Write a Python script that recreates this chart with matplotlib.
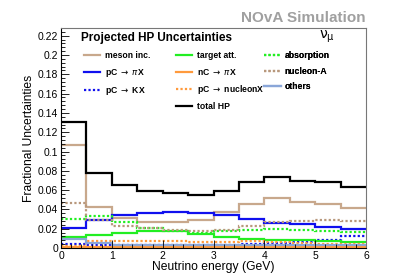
import numpy as np
import matplotlib
matplotlib.use("Agg")
from matplotlib import pyplot as plt
from matplotlib.ticker import MultipleLocator

plt.rcParams['font.family'] = ['Liberation Sans', 'DejaVu Sans']

# bin edges (GeV)
edges = [0, 0.5, 1, 1.5, 2, 2.5, 3, 3.5, 4, 4.5, 5, 5.5, 6]

meson_inc = [0.107, 0.0424, 0.031, 0.027, 0.027, 0.029, 0.037, 0.046, 0.052, 0.048, 0.046, 0.041]
target_att = [0.0114, 0.0138, 0.0155, 0.0175, 0.0172, 0.0148, 0.0114, 0.0095, 0.0085, 0.008, 0.0072, 0.0062]
absorption = [0.030, 0.0335, 0.027, 0.021, 0.018, 0.016, 0.0176, 0.019, 0.0197, 0.019, 0.018, 0.017]
pc_pix = [0.0203, 0.0293, 0.034, 0.036, 0.037, 0.0366, 0.034, 0.030, 0.026, 0.0245, 0.022, 0.0198]
nc_pix = [0.001, 0.001, 0.001, 0.001, 0.001, 0.001, 0.001, 0.001, 0.001, 0.001, 0.001, 0.001]
nucleon_a = [0.0466, 0.029, 0.023, 0.0205, 0.019, 0.0175, 0.019, 0.0228, 0.0265, 0.0285, 0.029, 0.028]
pc_kx = [0.004, 0.003, 0.003, 0.003, 0.003, 0.003, 0.003, 0.004, 0.005, 0.006, 0.0086, 0.012]
pc_nucleonx = [0.002, 0.0076, 0.0075, 0.007, 0.0068, 0.0066, 0.0066, 0.0068, 0.006, 0.005, 0.0045, 0.004]
others = [0.0093, 0.0052, 0.0035, 0.0028, 0.0027, 0.0027, 0.0027, 0.003, 0.003, 0.003, 0.0028, 0.0028]
total_hp = [0.131, 0.0777, 0.0656, 0.059, 0.0573, 0.055, 0.059, 0.068, 0.0739, 0.0694, 0.068, 0.0628]

tan = '#c8a88c'
brown = '#b8987c'
green = '#22ee22'
blue = '#1010ee'
orange = '#ff9a3c'
lightblue = '#8aa6d8'
dots = (0, (1, 1))

fig = plt.figure(figsize=(4.07, 2.76), dpi=100)
ax = fig.add_axes([0.1499, 0.1014, 0.7494, 0.7971])

series = [
    (meson_inc, tan, '-', 'meson inc.'),
    (pc_pix, blue, '-', r'pC $\rightarrow$ $\pi$X'),
    (pc_kx, blue, dots, r'pC $\rightarrow$ KX'),
    (target_att, green, '-', 'target att.'),
    (nc_pix, orange, '-', r'nC $\rightarrow$ $\pi$X'),
    (pc_nucleonx, orange, dots, r'pC $\rightarrow$ nucleonX'),
    (absorption, green, dots, 'absorption'),
    (nucleon_a, brown, dots, 'nucleon-A'),
    (others, lightblue, '-', 'others'),
    (total_hp, 'black', '-', 'total HP'),
]

handles = {}
for vals, col, ls, lab in series:
    h = ax.stairs(vals, edges, baseline=None, color=col, linestyle=ls, linewidth=1.6, label=lab)
    handles[lab] = h

ax.set_xlim(0, 6)
ax.set_ylim(0, 0.228)
ax.xaxis.set_major_locator(MultipleLocator(1))
ax.xaxis.set_minor_locator(MultipleLocator(0.2))
ax.yaxis.set_major_locator(MultipleLocator(0.02))
ax.yaxis.set_minor_locator(MultipleLocator(0.004))
ax.tick_params(which='both', direction='in', top=False, right=False, labelsize=7.5, pad=2)
ax.tick_params(which='major', length=6, width=0.6)
ax.tick_params(which='minor', length=3, width=0.6)
ax.set_yticks(np.arange(0, 0.221, 0.02))
ax.set_yticklabels(['0', '0.02', '0.04', '0.06', '0.08', '0.1', '0.12', '0.14', '0.16', '0.18', '0.2', '0.22'])
for s in ax.spines.values():
    s.set_linewidth(0.8)
ax.spines['right'].set_color('#777777')
ax.spines['top'].set_color('#777777')

ax.set_xlabel('Neutrino energy (GeV)', fontsize=8.7, labelpad=0)
ax.set_ylabel('Fractional Uncertainties', fontsize=8.7, labelpad=2)

fig.text(0.899, 0.935, 'NOvA Simulation', fontsize=11, fontweight='bold', color='#a0a0a0', ha='right', va='center')
ax.text(0.066, 0.955, 'Projected HP Uncertainties', transform=ax.transAxes, fontsize=8.5,
        fontweight='bold', ha='left', va='center')
ax.text(0.845, 0.96, r'$\mathrm{\nu}_{\mathrm{\mu}}$', transform=ax.transAxes, fontsize=10, ha='left', va='center')

cols = [
    (['meson inc.', r'pC $\rightarrow$ $\pi$X', r'pC $\rightarrow$ KX'], 0.075),
    (['target att.', r'nC $\rightarrow$ $\pi$X', r'pC $\rightarrow$ nucleonX', 'total HP'], 0.377),
    (['absorption', 'nucleon-A', 'others'], 0.666),
]
for labs, x0 in cols:
    leg = ax.legend([handles[l] for l in labs], labs, loc='upper left', bbox_to_anchor=(x0, 0.895),
                    frameon=False, handlelength=1.9, handletextpad=0.5,
                    labelspacing=0.75, borderaxespad=0, borderpad=0,
                    prop={'weight': 'bold', 'size': 6.2})
    ax.add_artist(leg)

fig.savefig('out.png', dpi=100)
